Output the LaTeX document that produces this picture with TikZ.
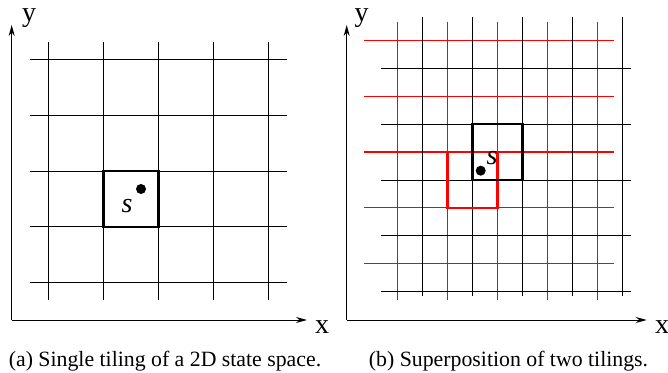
\documentclass[tikz,border=0pt]{standalone}
\usepackage{fontspec}
\setmainfont{Liberation Serif}
\usetikzlibrary{arrows.meta}

\begin{document}
\begin{tikzpicture}[
  x=0.5pt, y=-0.5pt,
  grid/.style={line width=0.5pt},
  redgrid/.style={line width=0.6pt, red},
  tile/.style={line width=1.1pt},
  axis/.style={line width=0.5pt, -{Stealth[length=5.5pt,width=3pt]}},
  dot/.style={circle, fill, inner sep=0pt, minimum size=5pt},
  lbl/.style={font=\fontsize{14}{16}\selectfont, inner sep=0pt, anchor=base},
  caption/.style={font=\fontsize{10.9}{13}\selectfont, inner sep=0pt, anchor=base}
]
  \useasboundingbox (0,0) rectangle (668,373);

  % (a) single tiling
  \foreach \i in {0,...,4} {
    \draw[grid] (48.5+55*\i,41.7) -- (48.5+55*\i,300);
    \draw[grid] (30,60+55.6*\i) -- (286.7,60+55.6*\i);
  }
  \draw[tile] (103.5,171.2) rectangle (158.5,226.8);
  \node[dot] (pa) at (141,189) {};
  \node[lbl] (sa) at (127,213) {\textit{s}};

  \coordinate (oa) at (11.7,320);
  \coordinate (xenda) at (307,320);
  \coordinate (yenda) at (11.7,25);
  \draw[axis] (oa) -- (xenda);
  \draw[axis] (oa) -- (yenda);
  \node[lbl] (xa) at (322,333) {x};
  \node[lbl] (ya) at (29,22) {y};
  \node[caption] (capa) at (165,366) {(a) Single tiling of a 2D state space.};

  % (b) two tilings, red one shifted
  \foreach \i in {0,...,4} {
    \draw[redgrid] (397.5+50*\i,21.7) -- (397.5+50*\i,300);
    \draw[redgrid] (364,40.5+55.75*\i) -- (614.3,40.5+55.75*\i);
  }
  \foreach \i in {0,...,4} {
    \draw[grid] (422.5+50*\i,16.7) -- (422.5+50*\i,296);
    \draw[grid] (380.7,68.3+55.9*\i) -- (631,68.3+55.9*\i);
  }
  \draw[tile, red] (447.5,152) rectangle (497.5,207.8);
  \draw[tile] (472.5,124.2) rectangle (522.5,180.1);
  \node[dot] (pb) at (480.7,170.7) {};
  \node[lbl] (sb) at (492,165) {\textit{s}};

  \coordinate (ob) at (346.7,320);
  \coordinate (xendb) at (646.7,320);
  \coordinate (yendb) at (346.7,25);
  \draw[axis] (ob) -- (xendb);
  \draw[axis] (ob) -- (yendb);
  \node[lbl] (xb) at (662,333) {x};
  \node[lbl] (yb) at (361.5,22) {y};
  \node[caption] (capb) at (508.5,366) {(b) Superposition of two tilings.};
\end{tikzpicture}
\end{document}
